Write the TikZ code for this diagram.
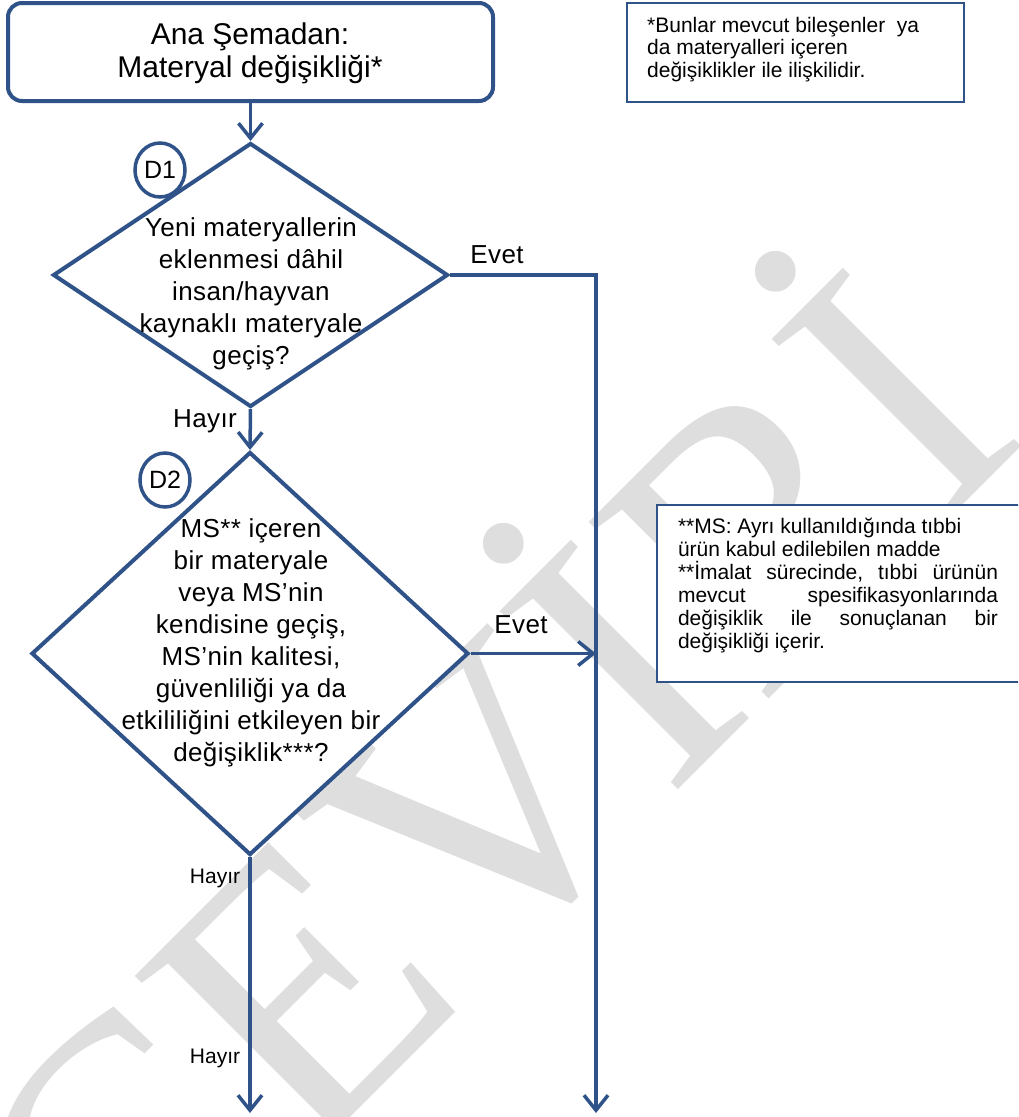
\documentclass[tikz,border=0pt]{standalone}
\usepackage{fontspec}
\setmainfont{Liberation Sans}
\newfontfamily\spacedfamily{Liberation Sans}[LetterSpace=1.5]
\newfontfamily\wmfamily{Liberation Serif}
\usetikzlibrary{shapes.geometric,arrows.meta}

\definecolor{flowblue}{HTML}{2F5388}
\definecolor{wmgray}{HTML}{DEDEDE}

\tikzset{
  shapeline/.style={draw=flowblue, line width=4pt, fill=white},
  titlebox/.style={shapeline, rounded corners=14pt, inner sep=0pt},
  decision/.style={shapeline, diamond, inner sep=0pt},
  tagmark/.style={shapeline, ellipse, line width=3.5pt, inner sep=0pt,
    minimum width=50pt, minimum height=54pt, font=\fontsize{25}{28}\selectfont},
  notebox/.style={draw=flowblue, line width=2.5pt, fill=white, inner sep=0pt},
  bodytext/.style={align=center, inner sep=0pt, font=\spacedfamily\fontsize{26}{32}\selectfont},
  notetext/.style={align=left, inner sep=0pt},
  answer/.style={anchor=base, inner sep=0pt, font=\spacedfamily\fontsize{26}{30}\selectfont},
  smallanswer/.style={anchor=base, inner sep=0pt, font=\fontsize{21}{24}\selectfont},
  flow/.style={draw=flowblue, line width=3.5pt,
    -{Straight Barb[length=15pt,width=24pt]}},
}

\begin{document}
\begin{tikzpicture}[x=1pt,y=-1pt]
\useasboundingbox (0,0) rectangle (1018,1117);
\clip (0,0) rectangle (1018,1117);

% watermark behind everything
\node[rotate=45, anchor=base west, inner sep=0pt, text=wmgray,
      font=\wmfamily\fontsize{385}{400}\selectfont] (wm) at (124,1344) {ÇEVİRİ};

% start box
\node[titlebox, minimum width=485pt, minimum height=98pt] (title) at (250.5,52) {};
\node[align=center, inner sep=0pt, font=\fontsize{30}{33}\selectfont] (titletext) at (250,53.5)
  {Ana Şemadan:\\Materyal değişikliği*};

% notes
\node[notebox, minimum width=337pt, minimum height=99pt] (note1) at (795.5,52.5) {};
\node[notetext, anchor=west, font=\fontsize{21}{22.5}\selectfont] (note1text) at (647,49.5)
  {*Bunlar mevcut bileşenler\ \ ya\\da materyalleri içeren\\değişiklikler ile ilişkilidir.};

\node[notebox, minimum width=380pt, minimum height=177pt] (note2) at (847,593.5) {};
\node[notetext, font=\fontsize{21}{23}\selectfont] (note2text) at (838,585)
  {**MS: Ayrı kullanıldığında tıbbi\\
   ürün kabul edilebilen madde\\
   \hbox to 320pt{**İmalat\hfill sürecinde,\hfill tıbbi\hfill ürünün}\\
   \hbox to 320pt{mevcut\hfill spesifikasyonlarında}\\
   \hbox to 320pt{değişiklik\hfill ile\hfill sonuçlanan\hfill bir}\\
   değişikliği içerir.};

% decisions
\node[decision, minimum width=395pt, minimum height=264pt] (d1) at (250.5,275) {};
\node[bodytext] (d1text) at (251,294)
  {Yeni materyallerin\\eklenmesi dâhil\\insan/hayvan\\kaynaklı materyale\\geçiş?};

\node[decision, minimum width=437pt, minimum height=403pt] (d2) at (250,653.5) {};
\node[bodytext] (d2text) at (251,643)
  {MS** içeren\\bir materyale\\veya MS’nin\\kendisine geçiş,\\MS’nin kalitesi,\\güvenliliği ya da\\etkililiğini etkileyen bir\\değişiklik***?};

% step tags
\node[tagmark] (tag1) at (160,170) {D1};
\node[tagmark] (tag2) at (165,480) {D2};

% free ends of the outgoing flows
\coordinate (yesend) at (596,1113);
\coordinate (noend) at (250,1113);

% connectors
\draw[flow] (title.south) -- (d1.north);
\draw[flow] (d1.south) -- (d2.north);
\draw[flow] (d1.east) -| (yesend);
\draw[flow] (d2.east) -- (d2.east -| yesend);
\draw[flow] (d2.south) -- (noend);

% branch labels
\node[answer] (yes1) at (497,263) {Evet};
\node[answer] (no1) at (205,427) {Hayır};
\node[answer] (yes2) at (521,633) {Evet};
\node[smallanswer] (no2) at (215,883) {Hayır};
\node[smallanswer] (no3) at (215,1063) {Hayır};
\end{tikzpicture}
\end{document}
